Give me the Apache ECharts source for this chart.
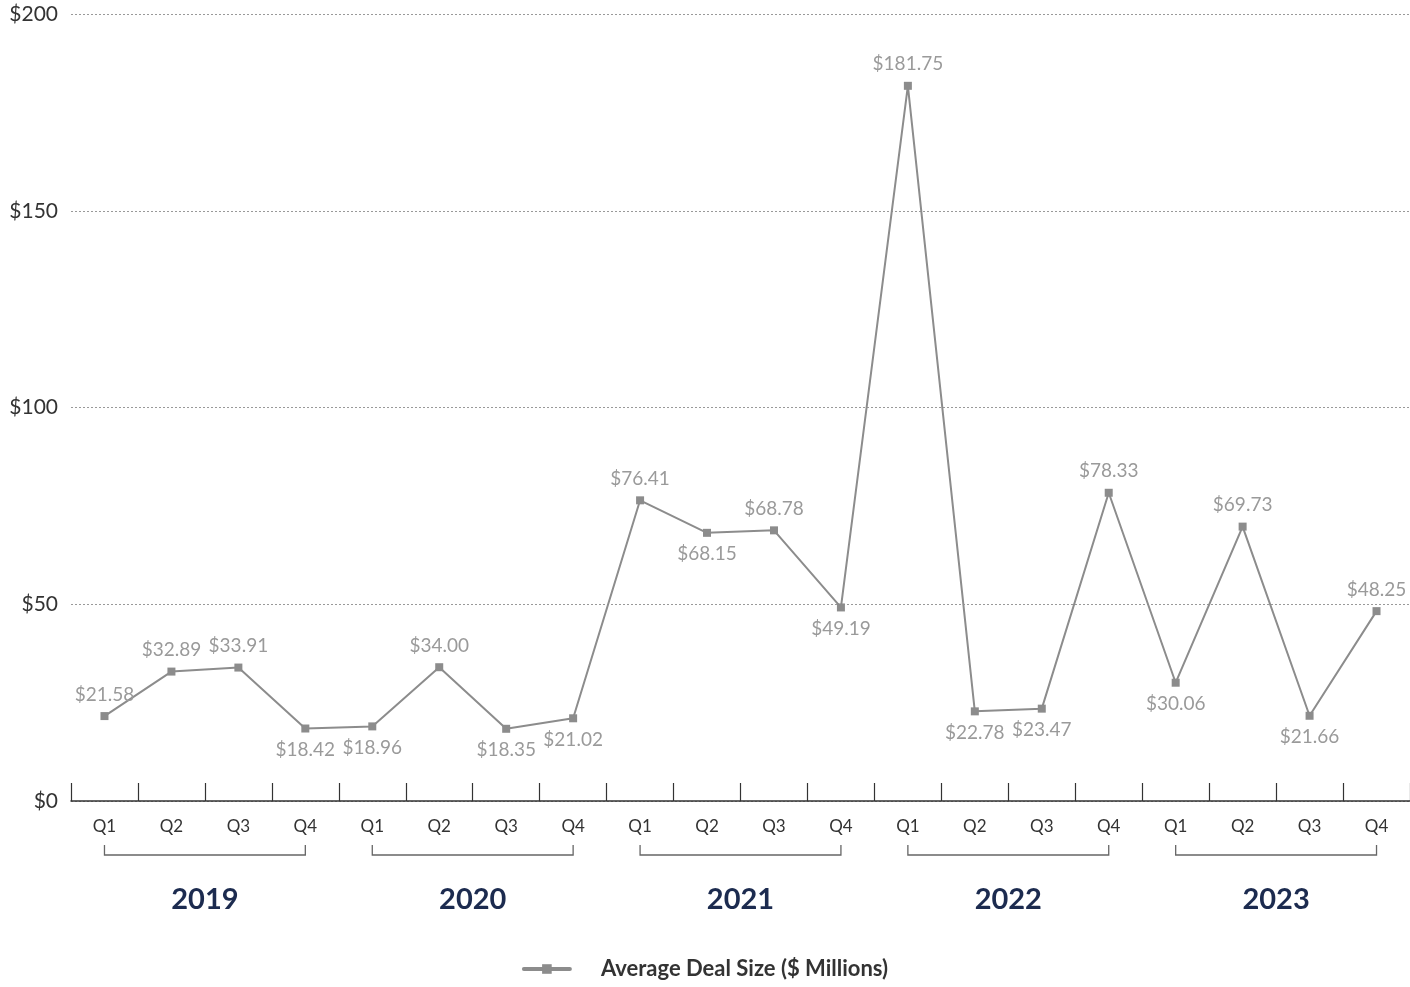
<!DOCTYPE html>
<html>
<head>
<meta charset="utf-8">
<script src="https://cdn.jsdelivr.net/npm/echarts@6/dist/echarts.min.js"></script>
<style>html,body{margin:0;padding:0;background:#fff}#c{width:1410px;height:987px}</style>
</head>
<body>
<div id="c"></div>
<script>
const years = ['2019', '2020', '2021', '2022', '2023'];
const quarters = ['Q1', 'Q2', 'Q3', 'Q4'];
const dealSize = [21.58, 32.89, 33.91, 18.42, 18.96, 34.00, 18.35, 21.02, 76.41, 68.15, 68.78, 49.19, 181.75, 22.78, 23.47, 78.33, 30.06, 69.73, 21.66, 48.25];
const labelSide = ['top','top','top','bottom','bottom','top','bottom','bottom','top','bottom','top','bottom','top','bottom','bottom','top','bottom','top','bottom','top'];

const categories = [];
years.forEach(y => quarters.forEach(q => categories.push(y + ' ' + q)));
const FONT = 'Lato, "Open Sans", sans-serif';

const chart = echarts.init(document.getElementById('c'));
chart.setOption({
  animation: false,
  grid: { left: 71, right: 0, top: 14, bottom: 186, containLabel: false },
  legend: {
    bottom: 2, left: 'center',
    data: ['Average Deal Size ($ Millions)'],
    itemWidth: 46, itemHeight: 12,
    lineStyle: { width: 4, cap: 'round' },
    textStyle: { fontFamily: FONT, fontSize: 22, fontWeight: 'bold', color: '#333', padding: [0, 0, 0, 26] }
  },
  xAxis: {
    type: 'category', data: categories, boundaryGap: true,
    axisLine: { show: true, lineStyle: { color: '#333', width: 1.5 } },
    axisTick: { show: true, inside: true, interval: 0, alignWithLabel: false, length: 18, lineStyle: { color: '#333', width: 1.2 } },
    axisLabel: { interval: 0, formatter: v => v.split(' ')[1], fontFamily: FONT, fontSize: 17, color: '#333', margin: 17 }
  },
  yAxis: {
    type: 'value', min: 0, max: 200, interval: 50,
    axisLine: { show: false }, axisTick: { show: false },
    axisLabel: { formatter: v => '$' + v, fontFamily: FONT, fontSize: 21, color: '#333', margin: 13 },
    splitLine: { lineStyle: { type: [2, 2], color: '#999', width: 1 } }
  },
  series: [
    {
      name: 'Average Deal Size ($ Millions)', type: 'line',
      data: dealSize.map((v, i) => ({ value: v, label: { position: labelSide[i] } })),
      symbol: 'rect', symbolSize: 8,
      lineStyle: { color: '#8c8c8c', width: 2 },
      itemStyle: { color: '#8c8c8c' },
      label: { show: true, formatter: p => '$' + p.value.toFixed(2), fontFamily: FONT, fontSize: 19, color: '#9a9a9a', distance: 8 },
      z: 3
    },
    {
      type: 'custom', silent: true, clip: false,
      data: years.map((y, i) => [i * 4, i * 4 + 3, 0]),
      encode: { x: [0, 1], y: 2 },
      renderItem: (params, api) => {
        const a = api.coord([api.value(0), 0]);
        const b = api.coord([api.value(1), 0]);
        const yb = a[1] + 54;
        return {
          type: 'group',
          children: [
            { type: 'polyline', shape: { points: [[a[0], yb - 10], [a[0], yb], [b[0], yb], [b[0], yb - 10]] },
              style: { stroke: '#666', lineWidth: 1.3, fill: null } },
            { type: 'text', style: { text: years[params.dataIndex], x: (a[0] + b[0]) / 2, y: a[1] + 99,
              align: 'center', verticalAlign: 'middle', fontFamily: FONT, fontSize: 29, fontWeight: 'bold', fill: '#1c2b4f' } }
          ]
        };
      }
    }
  ]
});
</script>
</body>
</html>
